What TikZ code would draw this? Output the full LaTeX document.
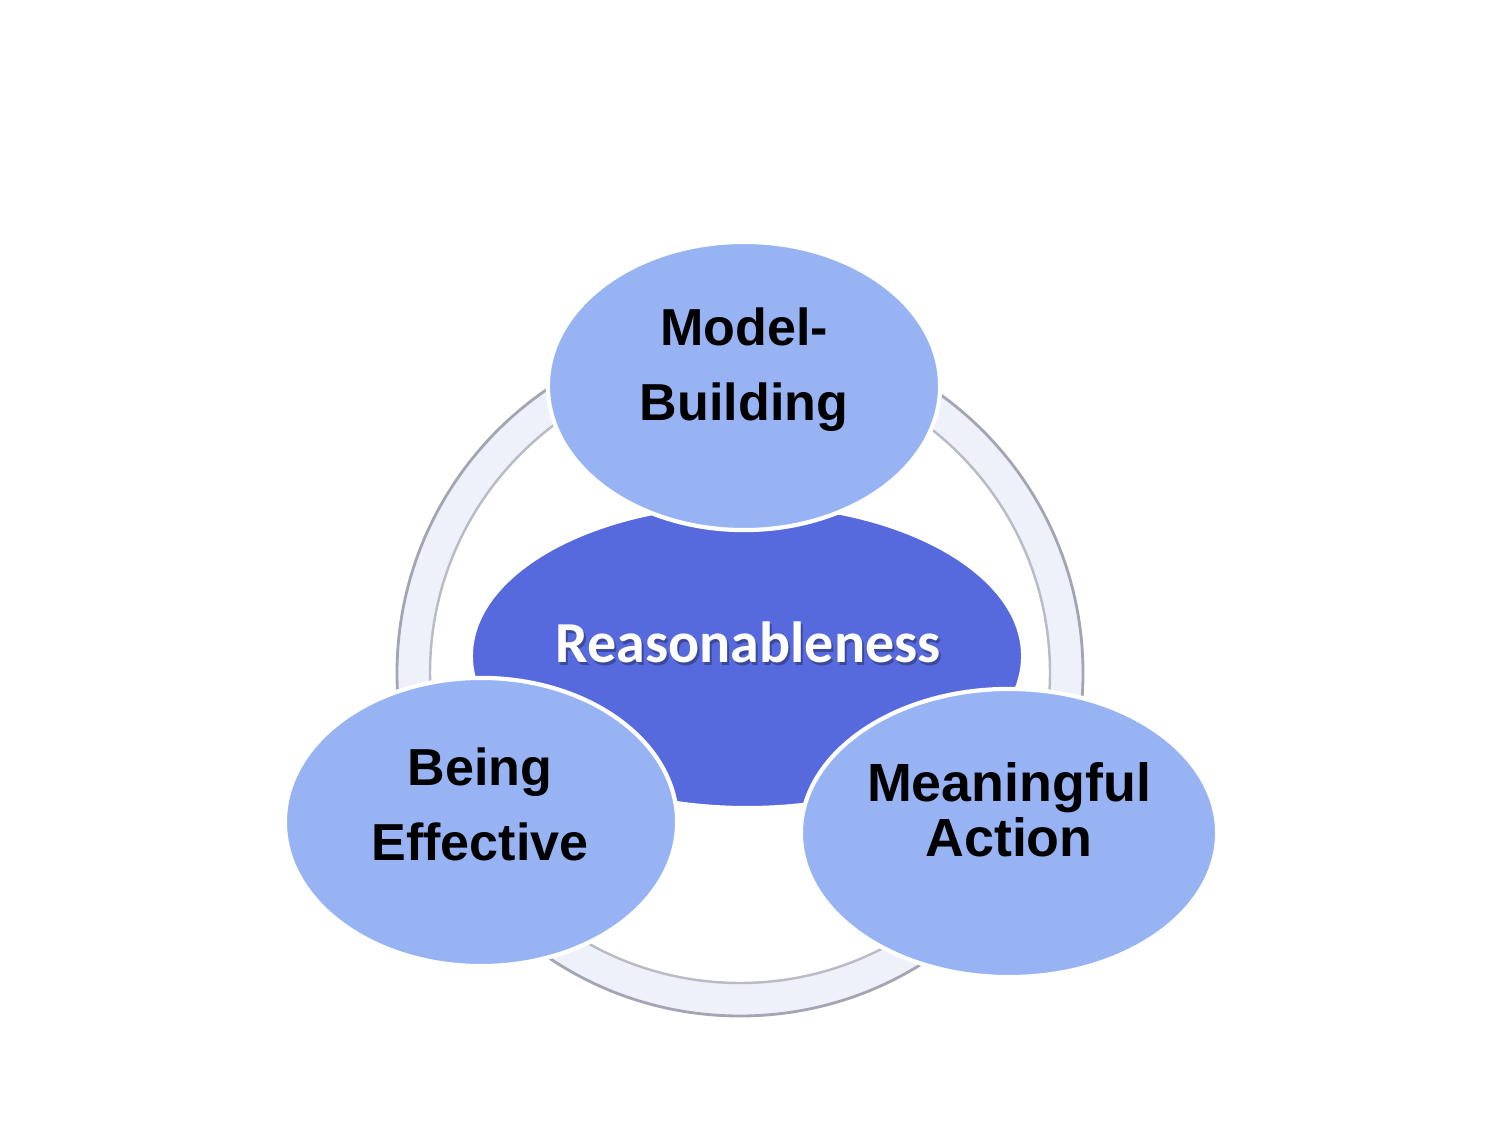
\documentclass[tikz,border=0pt]{standalone}
\usepackage{fontspec}
\setmainfont{Liberation Sans}
\newfontfamily\calib{Carlito}
\usetikzlibrary{shapes.geometric}
\definecolor{lightb}{HTML}{98B3F4}
\definecolor{darkb}{HTML}{5669DD}
\definecolor{ringfill}{HTML}{EFF1FA}
\definecolor{ringedge}{HTML}{A3A6B2}
\tikzset{
  bub/.style={ellipse, fill=lightb, draw=white, line width=1.2pt, inner sep=0pt},
  lbl/.style={font=\bfseries\fontsize{14.8}{21.3}\selectfont, align=center, text=black, inner sep=0pt},
}
\begin{document}
\begin{tikzpicture}[x=0.01cm,y=-0.01cm]
\useasboundingbox (0,0) rectangle (1500,1125);
% ring
\fill[ringfill, even odd rule] (740,673) circle (343) (740,673) circle (310);
\draw[ringedge, line width=0.8pt] (740,673) circle (343);
\draw[ringedge!75, line width=0.7pt] (740,673) circle (310);
% centre
\node[ellipse, fill=darkb, draw=white, line width=1.2pt, inner sep=0pt,
      minimum width=5.52cm, minimum height=3.04cm] (core) at (747,656) {};
\node[font=\calib\bfseries\fontsize{16.5}{20}\selectfont, text=black, opacity=0.3, inner sep=0pt] (coreshadow) at (750,645.5) {Reasonableness};
\node[font=\calib\bfseries\fontsize{16.5}{20}\selectfont, text=white, inner sep=0pt] (coretext) at (748,642.5) {Reasonableness};
% satellites
\node[bub, minimum width=3.92cm, minimum height=2.88cm] (mb) at (744,386) {};
\node[bub, minimum width=3.92cm, minimum height=2.88cm] (be) at (481,822) {};
\node[bub, minimum width=4.16cm, minimum height=2.88cm] (ma) at (1009,833) {};
\node[lbl] (mbt) at (744,370) {Model-\\Building};
\node[lbl] (bet) at (480,804) {Being\\Effective};
\node[lbl, font=\bfseries\fontsize{15.3}{15.5}\selectfont] (mat) at (1009,810) {Meaningful\\Action};
\end{tikzpicture}
\end{document}
